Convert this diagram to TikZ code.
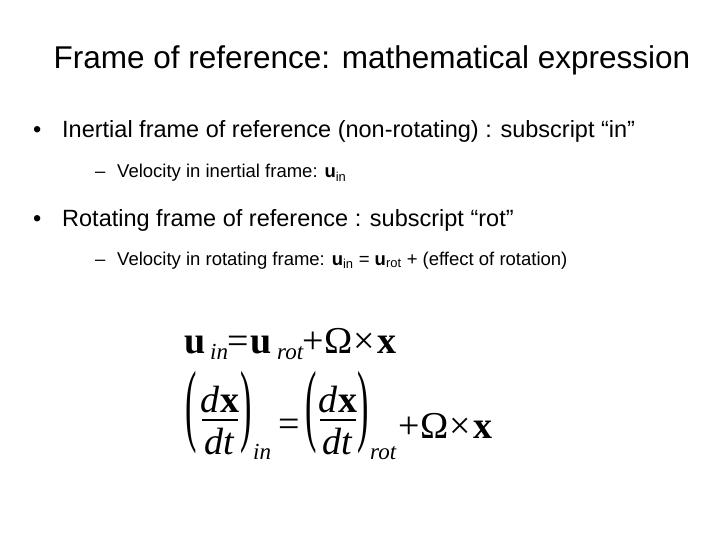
\documentclass[tikz,border=0pt]{standalone}
\usepackage{fontspec}
\usepackage{graphicx}
\setmainfont{Liberation Sans}
\newfontfamily\tms{Liberation Serif}
\begin{document}
\begin{tikzpicture}[x=1pt,y=-1pt,
  txt/.style={anchor=base west,inner sep=0pt},
  eq/.style={anchor=base west,inner sep=0pt,font=\tms\fontsize{38}{38}\selectfont},
  sub/.style={anchor=base west,inner sep=0pt,font=\tms\itshape\fontsize{23}{23}\selectfont},
  par/.style={anchor=center,inner sep=0pt,font=\tms\fontsize{38}{38}\selectfont}]
\useasboundingbox[fill=white] (0,0) rectangle (720,540);
\node[anchor=base,inner sep=0pt,font=\fontsize{31.5}{31.5}\selectfont] (title) at (372,69) {Frame of reference: mathematical expression};
\node[txt,font=\fontsize{23.5}{23.5}\selectfont] (d1) at (33,138) {•};
\node[txt,font=\fontsize{23.5}{23.5}\selectfont] (b1) at (62,138) {Inertial frame of reference (non-rotating) : subscript “in”};
\node[txt,font=\fontsize{18.5}{18.5}\selectfont] (sd1) at (95,178) {–};
\node[txt,font=\fontsize{18.5}{18.5}\selectfont] (s1) at (117,178) {Velocity in inertial frame: \textbf{u}\textsubscript{in}};
\node[txt,font=\fontsize{23.5}{23.5}\selectfont] (d2) at (33,226) {•};
\node[txt,font=\fontsize{23.5}{23.5}\selectfont] (b2) at (62,226) {Rotating frame of reference : subscript “rot”};
\node[txt,font=\fontsize{18.5}{18.5}\selectfont] (sd2) at (95,265) {–};
\node[txt,font=\fontsize{18.5}{18.5}\selectfont] (s2) at (117,265) {Velocity in rotating frame: \textbf{u}\textsubscript{in} = \textbf{u}\textsubscript{rot} + (effect of rotation)};
% equation 1
\node[eq] (u1) at (184,353) {\textbf{u}};
\node[sub] (i1) at (210,359) {in};
\node[eq] (q1) at (227,353) {=};
\node[eq] (u2) at (250,353) {\textbf{u}};
\node[sub] (r1) at (277,359) {rot};
\node[eq] (p1) at (302,353) {+\kern1ptΩ\kern1pt×\kern2pt\textbf{x}};
% equation 2
\node[par] (lp1) at (191,413) {\scalebox{0.9}[2.4]{(}};
\node[eq,anchor=base] (n1) at (220,412) {\textit{d}\textbf{x}};
\draw[line width=1.4pt] (202,420) -- (238,420);
\node[eq,anchor=base] (dn1) at (220,454) {\textit{dt}};
\node[par] (rp1) at (246,413) {\scalebox{0.9}[2.4]{)}};
\node[sub] (i2) at (253,459) {in};
\node[eq] (q2) at (278,436) {=};
\node[par] (lp2) at (311,413) {\scalebox{0.9}[2.4]{(}};
\node[eq,anchor=base] (n2) at (338,412) {\textit{d}\textbf{x}};
\draw[line width=1.4pt] (320,420) -- (356,420);
\node[eq,anchor=base] (dn2) at (338,454) {\textit{dt}};
\node[par] (rp2) at (363,413) {\scalebox{0.9}[2.4]{)}};
\node[sub] (r2) at (370,459) {rot};
\node[eq] (p2) at (398,438) {+\kern1ptΩ\kern1pt×\kern2pt\textbf{x}};
\end{tikzpicture}
\end{document}
